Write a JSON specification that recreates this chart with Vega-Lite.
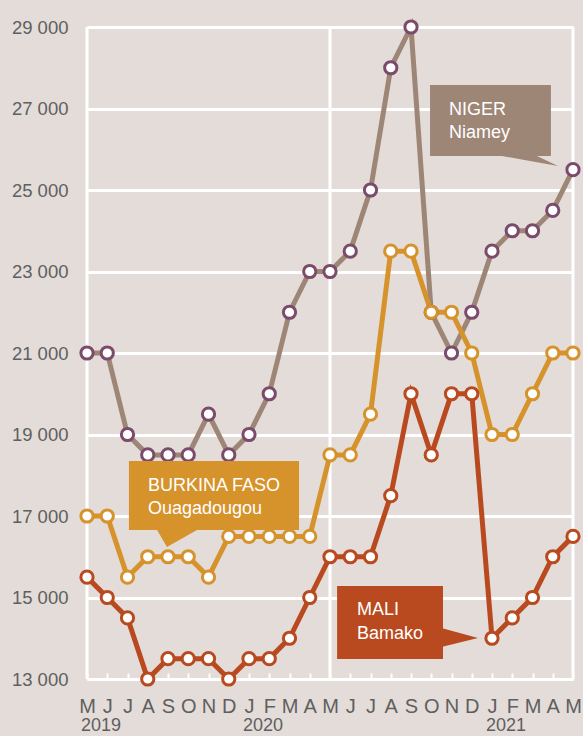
{
  "$schema": "https://vega.github.io/schema/vega-lite/v6.json",
  "width": 486,
  "height": 652,
  "autosize": "none",
  "padding": {"left": 87, "top": 27, "right": 10, "bottom": 57},
  "config": {
    "background": "#e3dcd9",
    "view": {"stroke": null},
    "font": "Liberation Sans, Arial, sans-serif",
    "axisX": {"labelOverlap": false}
  },
  "datasets": {
    "prices": [
      {"country": "Niger", "m": 0, "month": "2019-05", "price": 21000},
      {"country": "Niger", "m": 1, "month": "2019-06", "price": 21000},
      {"country": "Niger", "m": 2, "month": "2019-07", "price": 19000},
      {"country": "Niger", "m": 3, "month": "2019-08", "price": 18500},
      {"country": "Niger", "m": 4, "month": "2019-09", "price": 18500},
      {"country": "Niger", "m": 5, "month": "2019-10", "price": 18500},
      {"country": "Niger", "m": 6, "month": "2019-11", "price": 19500},
      {"country": "Niger", "m": 7, "month": "2019-12", "price": 18500},
      {"country": "Niger", "m": 8, "month": "2020-01", "price": 19000},
      {"country": "Niger", "m": 9, "month": "2020-02", "price": 20000},
      {"country": "Niger", "m": 10, "month": "2020-03", "price": 22000},
      {"country": "Niger", "m": 11, "month": "2020-04", "price": 23000},
      {"country": "Niger", "m": 12, "month": "2020-05", "price": 23000},
      {"country": "Niger", "m": 13, "month": "2020-06", "price": 23500},
      {"country": "Niger", "m": 14, "month": "2020-07", "price": 25000},
      {"country": "Niger", "m": 15, "month": "2020-08", "price": 28000},
      {"country": "Niger", "m": 16, "month": "2020-09", "price": 29000},
      {"country": "Niger", "m": 17, "month": "2020-10", "price": 22000},
      {"country": "Niger", "m": 18, "month": "2020-11", "price": 21000},
      {"country": "Niger", "m": 19, "month": "2020-12", "price": 22000},
      {"country": "Niger", "m": 20, "month": "2021-01", "price": 23500},
      {"country": "Niger", "m": 21, "month": "2021-02", "price": 24000},
      {"country": "Niger", "m": 22, "month": "2021-03", "price": 24000},
      {"country": "Niger", "m": 23, "month": "2021-04", "price": 24500},
      {"country": "Niger", "m": 24, "month": "2021-05", "price": 25500},
      {"country": "Burkina Faso", "m": 0, "month": "2019-05", "price": 17000},
      {"country": "Burkina Faso", "m": 1, "month": "2019-06", "price": 17000},
      {"country": "Burkina Faso", "m": 2, "month": "2019-07", "price": 15500},
      {"country": "Burkina Faso", "m": 3, "month": "2019-08", "price": 16000},
      {"country": "Burkina Faso", "m": 4, "month": "2019-09", "price": 16000},
      {"country": "Burkina Faso", "m": 5, "month": "2019-10", "price": 16000},
      {"country": "Burkina Faso", "m": 6, "month": "2019-11", "price": 15500},
      {"country": "Burkina Faso", "m": 7, "month": "2019-12", "price": 16500},
      {"country": "Burkina Faso", "m": 8, "month": "2020-01", "price": 16500},
      {"country": "Burkina Faso", "m": 9, "month": "2020-02", "price": 16500},
      {"country": "Burkina Faso", "m": 10, "month": "2020-03", "price": 16500},
      {"country": "Burkina Faso", "m": 11, "month": "2020-04", "price": 16500},
      {"country": "Burkina Faso", "m": 12, "month": "2020-05", "price": 18500},
      {"country": "Burkina Faso", "m": 13, "month": "2020-06", "price": 18500},
      {"country": "Burkina Faso", "m": 14, "month": "2020-07", "price": 19500},
      {"country": "Burkina Faso", "m": 15, "month": "2020-08", "price": 23500},
      {"country": "Burkina Faso", "m": 16, "month": "2020-09", "price": 23500},
      {"country": "Burkina Faso", "m": 17, "month": "2020-10", "price": 22000},
      {"country": "Burkina Faso", "m": 18, "month": "2020-11", "price": 22000},
      {"country": "Burkina Faso", "m": 19, "month": "2020-12", "price": 21000},
      {"country": "Burkina Faso", "m": 20, "month": "2021-01", "price": 19000},
      {"country": "Burkina Faso", "m": 21, "month": "2021-02", "price": 19000},
      {"country": "Burkina Faso", "m": 22, "month": "2021-03", "price": 20000},
      {"country": "Burkina Faso", "m": 23, "month": "2021-04", "price": 21000},
      {"country": "Burkina Faso", "m": 24, "month": "2021-05", "price": 21000},
      {"country": "Mali", "m": 0, "month": "2019-05", "price": 15500},
      {"country": "Mali", "m": 1, "month": "2019-06", "price": 15000},
      {"country": "Mali", "m": 2, "month": "2019-07", "price": 14500},
      {"country": "Mali", "m": 3, "month": "2019-08", "price": 13000},
      {"country": "Mali", "m": 4, "month": "2019-09", "price": 13500},
      {"country": "Mali", "m": 5, "month": "2019-10", "price": 13500},
      {"country": "Mali", "m": 6, "month": "2019-11", "price": 13500},
      {"country": "Mali", "m": 7, "month": "2019-12", "price": 13000},
      {"country": "Mali", "m": 8, "month": "2020-01", "price": 13500},
      {"country": "Mali", "m": 9, "month": "2020-02", "price": 13500},
      {"country": "Mali", "m": 10, "month": "2020-03", "price": 14000},
      {"country": "Mali", "m": 11, "month": "2020-04", "price": 15000},
      {"country": "Mali", "m": 12, "month": "2020-05", "price": 16000},
      {"country": "Mali", "m": 13, "month": "2020-06", "price": 16000},
      {"country": "Mali", "m": 14, "month": "2020-07", "price": 16000},
      {"country": "Mali", "m": 15, "month": "2020-08", "price": 17500},
      {"country": "Mali", "m": 16, "month": "2020-09", "price": 20000},
      {"country": "Mali", "m": 17, "month": "2020-10", "price": 18500},
      {"country": "Mali", "m": 18, "month": "2020-11", "price": 20000},
      {"country": "Mali", "m": 19, "month": "2020-12", "price": 20000},
      {"country": "Mali", "m": 20, "month": "2021-01", "price": 14000},
      {"country": "Mali", "m": 21, "month": "2021-02", "price": 14500},
      {"country": "Mali", "m": 22, "month": "2021-03", "price": 15000},
      {"country": "Mali", "m": 23, "month": "2021-04", "price": 16000},
      {"country": "Mali", "m": 24, "month": "2021-05", "price": 16500}
    ],
    "boxes": [
      {"country": "Niger", "m": 16.94, "m2": 22.91, "v": 27577, "v2": 25834},
      {"country": "Burkina Faso", "m": 2.07, "m2": 10.47, "v": 18350, "v2": 16656},
      {"country": "Mali", "m": 12.35, "m2": 17.58, "v": 15282, "v2": 13491}
    ],
    "tails": [
      {"country": "Niger", "m": 20.49, "v": 25834, "v2": 25834},
      {"country": "Niger", "m": 22.22, "v": 25834, "v2": 25681},
      {"country": "Niger", "m": 23.26, "v": 25589, "v2": 25589},
      {"country": "Burkina Faso", "m": 3.46, "v": 16656, "v2": 16656},
      {"country": "Burkina Faso", "m": 3.95, "v": 16656, "v2": 16239},
      {"country": "Burkina Faso", "m": 5.43, "v": 16656, "v2": 16656},
      {"country": "Mali", "m": 17.5, "v": 14251, "v2": 13785},
      {"country": "Mali", "m": 19.31, "v": 14006, "v2": 14006}
    ],
    "labels": [
      {"m": 17.88, "v": 26840, "text": "NIGER"},
      {"m": 17.88, "v": 26276, "text": "Niamey"},
      {"m": 3.01, "v": 17613, "text": "BURKINA FASO"},
      {"m": 3.01, "v": 17049, "text": "Ouagadougou"},
      {"m": 13.33, "v": 14570, "text": "MALI"},
      {"m": 13.33, "v": 13981, "text": "Bamako"}
    ],
    "years": [
      {"m": 0, "year": "2019"},
      {"m": 8, "year": "2020"},
      {"m": 20, "year": "2021"}
    ],
    "dividers": [{"m": 0}, {"m": 12}, {"m": 24}]
  },
  "encoding": {
    "x": {
      "field": "m", "type": "quantitative",
      "scale": {"domain": [0, 24], "nice": false, "zero": false},
      "axis": {
        "title": null,
        "values": [0,1,2,3,4,5,6,7,8,9,10,11,12,13,14,15,16,17,18,19,20,21,22,23,24],
        "labelExpr": "['M','J','J','A','S','O','N','D','J','F','M','A'][datum.value % 12]",
        "labelFontSize": 20,
        "labelColor": "#5f5f5f",
        "labelPadding": 23,
        "labelFlush": false,
        "labelOverlap": false,
        "labelBound": false,
        "grid": false,
        "domainColor": "white",
        "domainWidth": 3,
        "tickColor": "white",
        "tickWidth": 2,
        "tickSize": -6
      }
    }
  },
  "layer": [
    {
      "data": {"name": "dividers"},
      "mark": {"type": "rule", "color": "white", "strokeWidth": 3},
      "encoding": {}
    },
    {
      "data": {"name": "prices"},
      "mark": {"type": "line", "strokeWidth": 5},
      "encoding": {
        "y": {
          "field": "price", "type": "quantitative",
          "scale": {"domain": [13000, 29000], "nice": false, "zero": false},
          "axis": {
            "title": null,
            "values": [13000, 15000, 17000, 19000, 21000, 23000, 25000, 27000, 29000],
            "labelExpr": "replace(format(datum.value, ','), ',', ' ')",
            "labelFontSize": 18.5,
            "labelColor": "#5f5f5f",
            "labelPadding": 19,
            "domain": false,
            "ticks": false,
            "grid": true,
            "gridColor": "white",
            "gridWidth": 3
          }
        },
        "color": {
          "field": "country", "type": "nominal",
          "scale": {"domain": ["Niger", "Burkina Faso", "Mali"], "range": ["#9e8677", "#d6922b", "#b94a1f"]},
          "legend": null
        },
        "detail": {"field": "country"}
      }
    },
    {
      "data": {"name": "prices"},
      "mark": {"type": "point", "filled": false, "fill": "white", "fillOpacity": 1, "size": 150, "strokeWidth": 3, "opacity": 1},
      "encoding": {
        "y": {"field": "price", "type": "quantitative"},
        "stroke": {
          "field": "country", "type": "nominal",
          "scale": {"domain": ["Niger", "Burkina Faso", "Mali"], "range": ["#7b4b6b", "#d6922b", "#b94a1f"]},
          "legend": null
        }
      }
    },
    {
      "data": {"name": "tails"},
      "mark": {"type": "area", "opacity": 1},
      "encoding": {
        "y": {"field": "v", "type": "quantitative"},
        "y2": {"field": "v2"},
        "color": {"field": "country", "type": "nominal", "legend": null},
        "detail": {"field": "country"}
      }
    },
    {
      "data": {"name": "boxes"},
      "mark": {"type": "rect", "opacity": 1},
      "encoding": {
        "x2": {"field": "m2"},
        "y": {"field": "v", "type": "quantitative"},
        "y2": {"field": "v2"},
        "color": {"field": "country", "type": "nominal", "legend": null}
      }
    },
    {
      "data": {"name": "labels"},
      "mark": {"type": "text", "align": "left", "baseline": "alphabetic", "color": "white", "fontSize": 18},
      "encoding": {
        "y": {"field": "v", "type": "quantitative"},
        "text": {"field": "text"}
      }
    },
    {
      "data": {"name": "years"},
      "mark": {"type": "text", "align": "left", "baseline": "alphabetic", "color": "#5f5f5f", "fontSize": 18, "dx": -6, "dy": 52},
      "encoding": {
        "y": {"datum": 13000},
        "text": {"field": "year"}
      }
    }
  ],
  "resolve": {"scale": {"stroke": "independent"}}
}
